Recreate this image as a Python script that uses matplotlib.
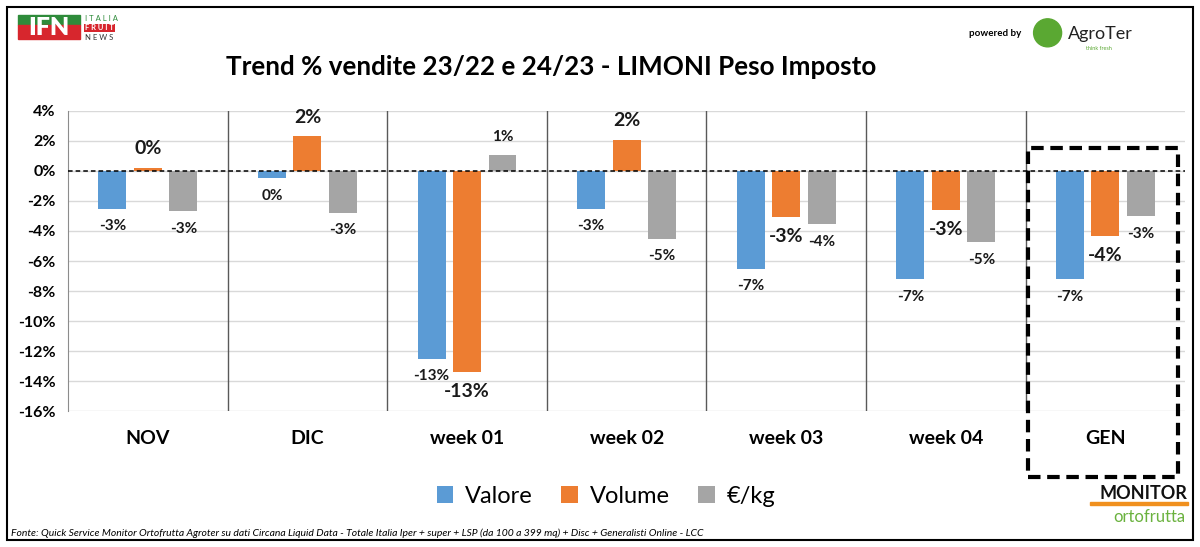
import matplotlib
matplotlib.use("Agg")
import matplotlib.pyplot as plt
import numpy as np
from matplotlib.patches import Rectangle, Ellipse

plt.rcParams['font.family'] = ['Lato', 'DejaVu Sans']

categories = ['NOV', 'DIC', 'week 01', 'week 02', 'week 03', 'week 04', 'GEN']
valore = [-2.52, -0.48, -12.52, -2.54, -6.52, -7.21, -7.21]
volume = [0.2, 2.3, -13.43, 2.04, -3.08, -2.59, -4.34]
prezzo = [-2.68, -2.77, 1.08, -4.52, -3.56, -4.76, -3.01]
series_names = ['Valore', 'Volume', '€/kg']
yticks = [4, 2, 0, -2, -4, -6, -8, -10, -12, -14, -16]

colors = ['#5B9BD5', '#ED7D31', '#A5A5A5']

fig = plt.figure(figsize=(12, 5.47), dpi=100)
ax = fig.add_axes([0.0567, 0.2486, 0.931, 0.5485])

x = np.arange(len(categories))
w = 0.175
off = 0.222
for i, (vals, name, c) in enumerate(zip([valore, volume, prezzo], series_names, colors)):
    pos = x + (i - 1) * off
    ax.bar(pos, vals, width=w, color=c, label=name, zorder=3)
    big = (i == 1)
    for p, v in zip(pos, vals):
        lab = f"{int(round(v))}%"
        d = 14 if big else 12.5
        ax.annotate(lab, (p, v), xytext=(0, d if v >= 0 else -d), textcoords='offset points',
                    ha='center', va='center', fontsize=14 if big else 11,
                    fontweight='bold', color='#1a1a1a', zorder=4)

ax.set_xlim(-0.5, len(categories) - 0.5)
ax.set_ylim(-16, 4)
ax.set_yticks(yticks)
ax.set_yticklabels([f"{t}%" for t in yticks], fontsize=11.5, fontweight='bold')
ax.yaxis.grid(True, color='#d9d9d9', lw=1, zorder=0)
ax.set_axisbelow(True)
ax.set_xticks(x)
ax.set_xticklabels(categories, fontsize=14, fontweight='bold')
ax.tick_params(axis='both', length=0)
ax.tick_params(axis='x', pad=14)
ax.tick_params(axis='y', pad=9)
for s in ['top', 'right', 'bottom']:
    ax.spines[s].set_visible(False)
ax.spines['left'].set_color('#8c8c8c')
for sep in x[:-1] + 0.5:
    ax.axvline(sep, color='#595959', lw=1, zorder=1)
ax.axhline(0, color='black', lw=1.1, ls=(0, (3, 2)), zorder=5)

leg = fig.legend(loc='center', bbox_to_anchor=(0.505, 0.093), ncol=3, frameon=False,
                 fontsize=17, handlelength=0.7, handleheight=0.7, handletextpad=0.5,
                 columnspacing=1.2)

fig.text(0.459, 0.878, 'Trend % vendite 23/22 e 24/23 - LIMONI Peso Imposto',
         ha='center', va='center', fontsize=18.7, fontweight='bold')

fig.text(0.009, 0.026, 'Fonte: Quick Service Monitor Ortofrutta Agroter su dati Circana Liquid Data - '
         'Totale Italia Iper + super + LSP (da 100 a 399 mq) + Disc + Generalisti Online - LCC',
         ha='left', va='center', fontsize=7.5, style='italic')

# GEN highlight box
fig.add_artist(Rectangle((0.8567, 0.128), 0.125, 0.6015, transform=fig.transFigure,
                         fill=False, ec='black', lw=3, ls=(0, (3, 1.6))))
# outer frame
fig.add_artist(Rectangle((0.0058, 0.0128), 0.988, 0.974, transform=fig.transFigure,
                         fill=False, ec='black', lw=1.5))

# IFN logo
fig.add_artist(Rectangle((0.015, 0.955), 0.052, 0.018, transform=fig.transFigure, color='#2e8b3a'))
fig.add_artist(Rectangle((0.015, 0.928), 0.052, 0.027, transform=fig.transFigure, color='#d7262d'))
fig.text(0.041, 0.949, 'IFN', ha='center', va='center', fontsize=18, fontweight='heavy', color='white')
fig.text(0.071, 0.966, 'I T A L I A', ha='left', va='center', fontsize=5.5, color='#2e8b3a')
fig.text(0.071, 0.949, 'F R U I T', ha='left', va='center', fontsize=5.5, color='white', fontweight='bold',
         bbox=dict(boxstyle='square,pad=0.1', fc='#d7262d', ec='none'))
fig.text(0.071, 0.932, 'N E W S', ha='left', va='center', fontsize=5.5, color='#333333')

# AgroTer logo
fig.text(0.829, 0.938, 'powered by', ha='center', va='center', fontsize=7, fontweight='bold')
fig.add_artist(Ellipse((0.873, 0.94), 28 / 1200, 28 / 547, transform=fig.transFigure, color='#5aa832'))
fig.text(0.89, 0.938, 'AgroTer', ha='left', va='center', fontsize=13, color='#222222')
fig.text(0.905, 0.912, 'think fresh', ha='left', va='center', fontsize=4, color='#5aa832')

# Monitor Ortofrutta logo
fig.text(0.953, 0.098, 'MONITOR', ha='center', va='center', fontsize=13, fontweight='bold', color='#111111')
fig.add_artist(Rectangle((0.908, 0.077), 0.082, 0.006, transform=fig.transFigure, color='#f0901e'))
fig.text(0.958, 0.055, 'ortofrutta', ha='center', va='center', fontsize=12, color='#6ab23e')

fig.savefig('out.png', dpi=100)
